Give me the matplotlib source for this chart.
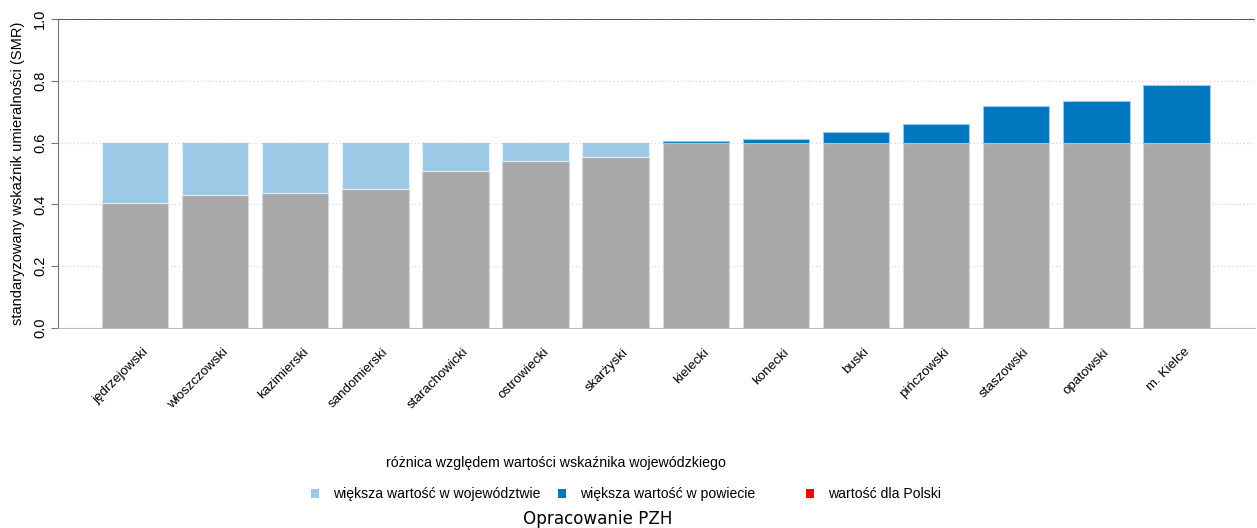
import numpy as np
import matplotlib
matplotlib.use("Agg")
import matplotlib.pyplot as plt
from matplotlib.patches import Patch
from matplotlib.transforms import ScaledTranslation

plt.rcParams["font.family"] = ["Liberation Sans", "DejaVu Sans"]

# SMR for each powiat, sorted ascending; regional (wojewodztwo) value and national value
powiaty = ["jędrzejowski", "włoszczowski", "kazimierski", "sandomierski",
           "starachowicki", "ostrowiecki", "skarżyski", "kielecki", "konecki",
           "buski", "pińczowski", "staszowski", "opatowski", "m. Kielce"]
smr = [0.404, 0.429, 0.437, 0.449, 0.509, 0.539, 0.552,
       0.604, 0.612, 0.633, 0.659, 0.718, 0.734, 0.787]
smr_woj = 0.6
smr_polska = 1.0

col_grey = "#a8a8a8"
col_light = "#9dc8e6"
col_dark = "#0077be"

smr = np.array(smr)
x = np.arange(len(powiaty))
base = np.minimum(smr, smr_woj)
diff_low = np.where(smr < smr_woj, smr_woj - smr, 0)
diff_high = np.where(smr > smr_woj, smr - smr_woj, 0)

fig = plt.figure(figsize=(12.57, 5.28), dpi=100)
ax = fig.add_axes([58 / 1257, 1 - 328 / 528, 1197 / 1257, 309 / 528])

ax.set_axisbelow(True)
ax.yaxis.grid(True, linestyle=(0, (1, 2)), color="#c8dbe6", linewidth=0.9)
w = 0.83
ax.bar(x, base, width=w, color=col_grey, edgecolor="#d8d8d8", linewidth=0.8)
ax.bar(x, diff_low, bottom=base, width=w, color=col_light, edgecolor="#e0eef8", linewidth=0.8)
ax.bar(x, diff_high, bottom=smr_woj, width=w, color=col_dark, edgecolor="#9dc8e6", linewidth=0.8)
ax.axhline(smr_polska, color="red", linewidth=1.3, zorder=5)

ax.set_xlim(-0.96, len(powiaty) - 1 + 0.98)
ax.set_ylim(0, 1.0)
ax.set_yticks([0, 0.2, 0.4, 0.6, 0.8, 1.0])
ax.set_yticklabels(["0.0", "0.2", "0.4", "0.6", "0.8", "1.0"], rotation=90, va="center", fontsize=10.5)
ax.tick_params(axis="y", length=5, color="#777777", pad=3)
ax.tick_params(axis="x", length=0, pad=13)
ax.set_xticks(x)
ax.set_xticklabels(powiaty, rotation=45, ha="right", rotation_mode="anchor", fontsize=9.6)
# R puts the rotated labels a bit to the right of the bar centre
shift = ScaledTranslation(7 / 100, 0, fig.dpi_scale_trans)
for lab in ax.get_xticklabels():
    lab.set_transform(lab.get_transform() + shift)
ax.set_ylabel("standaryzowany wskaźnik umieralności (SMR)", fontsize=10.5, labelpad=6)

for s in ["top", "right"]:
    ax.spines[s].set_visible(False)
ax.spines["left"].set_color("#777777")
ax.spines["bottom"].set_color("#bbbbbb")

fig.text(556 / 1257, 1 - 463 / 528, "różnica względem wartości wskaźnika wojewódzkiego",
         ha="center", va="center", fontsize=10.2)

entries = [(col_light, "większa wartość w województwie", 311),
           (col_dark, "większa wartość w powiecie", 558),
           ("red", "wartość dla Polski", 806)]
for c, lab, px in entries:
    fig.legend(handles=[Patch(facecolor=c, edgecolor="none")], labels=[lab],
               loc="center left", bbox_to_anchor=(px / 1257, 1 - 494 / 528),
               frameon=False, handlelength=0.6, handleheight=0.6,
               handletextpad=1.0, fontsize=10.1, borderpad=0, borderaxespad=0)

fig.text(598 / 1257, 1 - 519 / 528, "Opracowanie PZH", ha="center", va="center",
         fontsize=12.1, family="DejaVu Sans")

fig.savefig("out.png", dpi=100)
